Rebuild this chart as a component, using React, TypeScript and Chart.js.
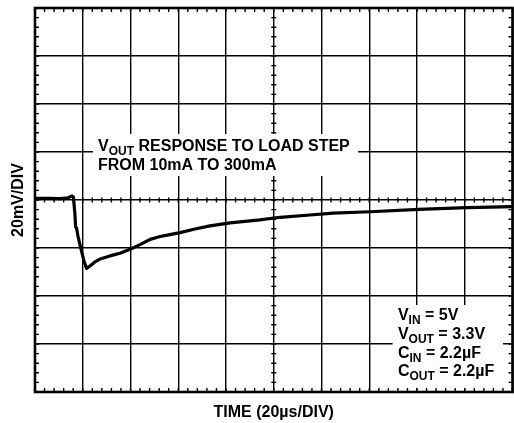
import React, { useEffect, useRef } from "react";
import { Chart, registerables } from "chart.js";

Chart.register(...registerables);

// Time axis in microseconds (20 µs/div), VOUT deviation in mV (20 mV/div)
const timeUs = [
  0, 6.3, 10.5, 13.8, 15.5, 16.1, 16.75, 17.0, 17.4, 18.0, 18.85, 19.7, 20.5, 21.6,
  23.0, 25.1, 27.2, 31.4, 35.6, 39.8, 44.0, 48.2, 52.4, 56.5, 60.7, 67.0, 73.3, 81.7,
  94.2, 102.6, 115.2, 124.8, 140.3, 160.8, 180.9, 200,
];
const voutMv = [
  0.7, 0.7, 0.6, 0.9, 1.7, 1.25, -6.25, -11.25, -11.7, -15, -18.75, -22.1, -25.4, -28.5,
  -27.5, -25.8, -24.6, -23.3, -22.2, -20.5, -18.6, -16.4, -15.2, -14.4, -13.6, -12.1, -10.8, -9.5,
  -8.3, -7.2, -6.25, -5.5, -4.9, -3.9, -3.2, -2.8,
];

const xMin = 0, xMax = 200, xStep = 20, xMinor = 4;
const yMin = -80, yMax = 80, yStep = 20, yMinor = 4;

const xTitle = "TIME (20µs/DIV)";
const yTitle = "20mV/DIV";

// Annotation texts: [text, isSubscript]
const note1Lines: [string, boolean][][] = [
  [["V", false], ["OUT", true], [" RESPONSE TO LOAD STEP", false]],
  [["FROM 10mA TO 300mA", false]],
];
const note2Lines: [string, boolean][][] = [
  [["V", false], ["IN", true], [" = 5V", false]],
  [["V", false], ["OUT", true], [" = 3.3V", false]],
  [["C", false], ["IN", true], [" = 2.2µF", false]],
  [["C", false], ["OUT", true], [" = 2.2µF", false]],
];

const FONT = '"Liberation Sans", Arial, Helvetica, sans-serif';

function drawRich(ctx: CanvasRenderingContext2D, parts: [string, boolean][], x: number, y: number) {
  let cx = x;
  for (const [t, sub] of parts) {
    ctx.font = sub ? `bold 12px ${FONT}` : `bold 16px ${FONT}`;
    ctx.fillText(t, cx, sub ? y + 4 : y);
    cx += ctx.measureText(t).width;
  }
}

const overlayPlugin = {
  id: "scopeOverlay",
  beforeDatasetsDraw(chart: any) {
    const { ctx, chartArea: a, scales } = chart;
    const x = scales.x, y = scales.y;
    const cx = x.getPixelForValue((xMin + xMax) / 2);
    const cy = y.getPixelForValue(0);
    ctx.save();
    ctx.strokeStyle = "#000";
    ctx.lineWidth = 1.4;
    ctx.beginPath();
    for (let t = xMin; t <= xMax + 1e-6; t += xMinor) {
      const px = x.getPixelForValue(t);
      ctx.moveTo(px, a.top); ctx.lineTo(px, a.top + 4);
      ctx.moveTo(px, a.bottom - 4); ctx.lineTo(px, a.bottom);
      ctx.moveTo(px, cy - 2.5); ctx.lineTo(px, cy + 2.5);
    }
    for (let v = yMin; v <= yMax + 1e-6; v += yMinor) {
      const py = y.getPixelForValue(v);
      ctx.moveTo(a.left, py); ctx.lineTo(a.left + 4, py);
      ctx.moveTo(a.right - 4, py); ctx.lineTo(a.right, py);
      ctx.moveTo(cx - 2.5, py); ctx.lineTo(cx + 2.5, py);
    }
    ctx.stroke();
    ctx.lineWidth = 2.6;
    ctx.strokeRect(a.left, a.top, a.right - a.left, a.bottom - a.top);
    ctx.restore();
  },
  afterDatasetsDraw(chart: any) {
    const { ctx, scales } = chart;
    const x = scales.x, y = scales.y;
    ctx.save();
    const b1l = x.getPixelForValue(24.3), b1r = x.getPixelForValue(135.3);
    const b1t = y.getPixelForValue(27.5), b1b = y.getPixelForValue(10);
    ctx.fillStyle = "#fff";
    ctx.fillRect(b1l, b1t, b1r - b1l, b1b - b1t);
    const b2l = x.getPixelForValue(149.8), b2r = x.getPixelForValue(196);
    const b2t = y.getPixelForValue(-43.75), b2b = y.getPixelForValue(-78.3);
    ctx.fillRect(b2l, b2t, b2r - b2l, b2b - b2t);

    ctx.fillStyle = "#000";
    ctx.textBaseline = "alphabetic";
    ctx.textAlign = "left";
    const n1x = x.getPixelForValue(26.4);
    const n1y = [20.4, 12.5];
    note1Lines.forEach((ln, i) => drawRich(ctx, ln, n1x, y.getPixelForValue(n1y[i])));
    const n2x = x.getPixelForValue(152);
    const n2y = [-50, -57.9, -65.8, -73.3];
    note2Lines.forEach((ln, i) => drawRich(ctx, ln, n2x, y.getPixelForValue(n2y[i])));
    ctx.restore();
  },
};

export default function App() {
  const ref = useRef<HTMLCanvasElement | null>(null);
  useEffect(() => {
    if (!ref.current) return;
    const chart = new Chart(ref.current, {
      type: "line",
      data: {
        datasets: [
          {
            data: timeUs.map((t, i) => ({ x: t, y: voutMv[i] })),
            borderColor: "#000",
            borderWidth: 3.2,
            borderJoinStyle: "round",
            borderCapStyle: "round",
            pointRadius: 0,
            tension: 0,
            fill: false,
          },
        ],
      },
      options: {
        animation: false,
        responsive: false,
        maintainAspectRatio: false,
        layout: { padding: { left: 0, top: 8, right: 1.5, bottom: 0 } },
        plugins: { legend: { display: false }, tooltip: { enabled: false } },
        scales: {
          x: {
            type: "linear",
            min: xMin,
            max: xMax,
            ticks: { display: false, stepSize: xStep },
            grid: { color: "#000", lineWidth: 1.4, drawTicks: false },
            border: { display: false },
            title: {
              display: true,
              text: xTitle,
              color: "#000",
              font: { family: FONT, size: 16, weight: "bold", lineHeight: 1.2 },
              padding: { top: 11.4, bottom: 0.4 },
            },
          },
          y: {
            type: "linear",
            min: yMin,
            max: yMax,
            ticks: { display: false, stepSize: yStep },
            grid: { color: "#000", lineWidth: 1.4, drawTicks: false },
            border: { display: false },
            title: {
              display: true,
              text: yTitle,
              color: "#000",
              font: { family: FONT, size: 16, weight: "bold", lineHeight: 1.2 },
              padding: { top: 9.4, bottom: 6.4 },
            },
          },
        },
      },
      plugins: [overlayPlugin],
    });
    return () => chart.destroy();
  }, []);
  return (
    <div style={{ position: "absolute", left: 0, top: 0, width: 514, height: 423, background: "#fff" }}>
      <canvas ref={ref} width={514} height={423} style={{ width: 514, height: 423, display: "block" }} />
    </div>
  );
}
